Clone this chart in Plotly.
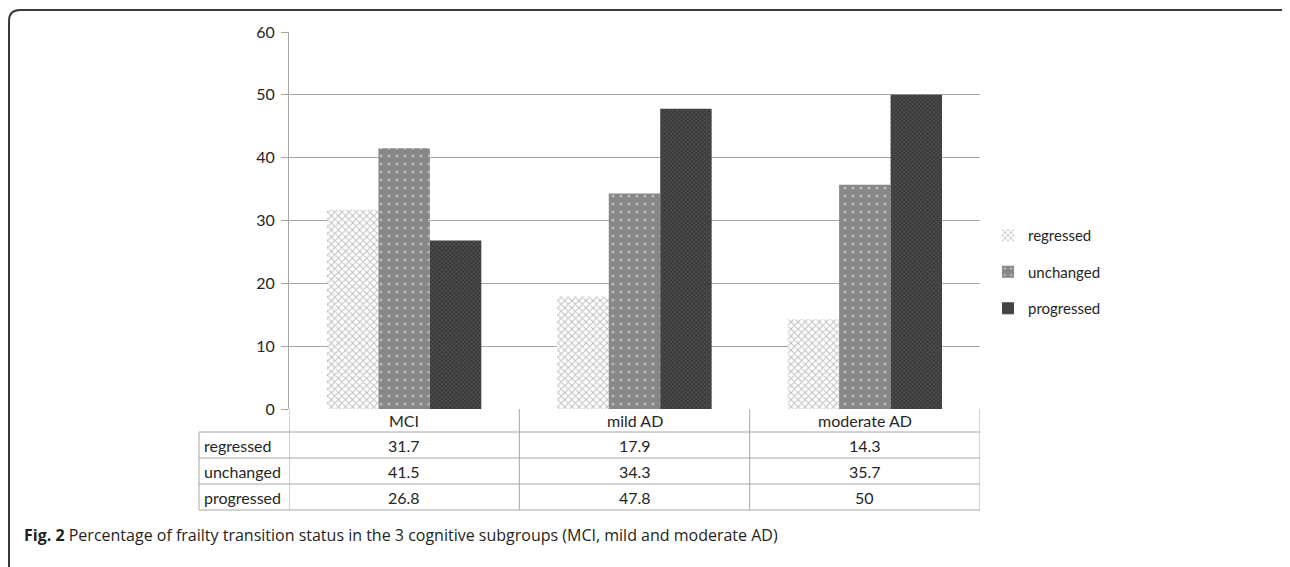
import plotly.graph_objects as go

# ---------------- data ----------------
categories = ["MCI", "mild AD", "moderate AD"]
series_names = ["regressed", "unchanged", "progressed"]
regressed = [31.7, 17.9, 14.3]
unchanged = [41.5, 34.3, 35.7]
progressed = [26.8, 47.8, 50]
table_values = ["31.7", "17.9", "14.3"], ["41.5", "34.3", "35.7"], ["26.8", "47.8", "50"]
y_ticks = [0, 10, 20, 30, 40, 50, 60]
caption_bold = "Fig. 2"
caption_text = " Percentage of frailty transition status in the 3 cognitive subgroups (MCI, mild and moderate AD)"

# ---------------- geometry ----------------
OFF = 8  # page body margin
W, H = 1290 - OFF, 567 - OFF
# target screen pixels of plot area
SL, SR, ST, SB = 289, 980, 32, 409
L, R, T, B = SL - OFF, SR - OFF, ST - OFF, SB - OFF
PW, PH = R - L, B - T


def px(xs):
    return (xs - OFF - L) / PW


def py(ys):
    return (B - (ys - OFF)) / PH


TXT = "#262626"
GRID = "#a6a6a6"
FONT = "Lato, Calibri, 'Open Sans', sans-serif"

patterns = [
    dict(shape="x", bgcolor="#ffffff", fgcolor="#7a7a7a", size=5, solidity=0.35),
    dict(shape=".", bgcolor="#878787", fgcolor="#e8e8e8", size=8, solidity=0.12),
    dict(shape="x", bgcolor="#3a3a3a", fgcolor="#8c8c8c", size=3, solidity=0.3),
]

fig = go.Figure()
for name, vals, pat in zip(series_names, [regressed, unchanged, progressed], patterns):
    fig.add_trace(go.Bar(
        x=categories, y=vals, name=name, legendgroup=name,
        marker=dict(color=pat["bgcolor"], line=dict(width=0), pattern=pat),
        hoverinfo="x+y+name",
    ))

fig.update_layout(
    width=W, height=H,
    margin=dict(l=L, r=W - R, t=T, b=H - B, autoexpand=False),
    paper_bgcolor="white", plot_bgcolor="white",
    barmode="group", bargap=0.33, bargroupgap=0,
    font=dict(family=FONT, size=16, color=TXT),
    showlegend=True,
    legend=dict(x=px(988), y=py(272), xanchor="left", yanchor="middle",
                font=dict(family=FONT, size=15, color=TXT),
                tracegroupgap=14, bgcolor="rgba(0,0,0,0)", itemclick=False),
    xaxis=dict(showticklabels=False, showgrid=False, zeroline=False, showline=False,
               ticks="", range=[-0.5, 2.5], fixedrange=True),
    yaxis=dict(range=[0, 60], tickvals=y_ticks, showgrid=True, gridcolor=GRID, gridwidth=1,
               zeroline=False, showline=True, linecolor=GRID, linewidth=1,
               ticks="outside", ticklen=7, tickcolor=GRID, tickwidth=1,
               ticklabelstandoff=3,
               tickfont=dict(family=FONT, size=16, color=TXT), fixedrange=True),
)

shapes = []
line_style = dict(color=GRID, width=1)
# table horizontal lines
row_lines = [432, 458, 484, 510]
for yy in row_lines:
    shapes.append(dict(type="line", xref="paper", yref="paper",
                       x0=px(199), x1=1, y0=py(yy), y1=py(yy), line=line_style))
# vertical lines at category boundaries
for xb in [-0.5, 0.5, 1.5, 2.5]:
    shapes.append(dict(type="line", xref="x", yref="paper",
                       x0=xb, x1=xb, y0=0, y1=py(510), line=line_style))
# left border of row-label column
shapes.append(dict(type="line", xref="paper", yref="paper",
                   x0=px(199), x1=px(199), y0=py(432), y1=py(510), line=line_style))
# outer frame with rounded corner
fy0 = py(10)
frame_path = (f"M {px(1288)},{py(14)} Q {px(1288)},{py(10)} {px(1282)},{py(10)} "
              f"L {px(20)},{fy0} Q {px(9)},{fy0} {px(9)},{py(21)} "
              f"L {px(9)},{py(580)}")
shapes.append(dict(type="path", xref="paper", yref="paper", path=frame_path,
                   line=dict(color="#3a3a3a", width=2)))
fig.update_layout(shapes=shapes)

annotations = []
row_centers = [445, 471, 497]
# category header row
for c in categories:
    annotations.append(dict(x=c, y=py(421), xref="x", yref="paper", text=c, showarrow=False,
                            xanchor="center", yanchor="middle",
                            font=dict(family=FONT, size=16, color=TXT)))
# row labels and values
for name, vals, yc in zip(series_names, table_values, row_centers):
    annotations.append(dict(x=px(202), y=py(yc), xref="paper", yref="paper", text=name,
                            showarrow=False, xanchor="left", yanchor="middle",
                            font=dict(family=FONT, size=16, color=TXT)))
    for c, v in zip(categories, vals):
        annotations.append(dict(x=c, y=py(yc), xref="x", yref="paper", text=v, showarrow=False,
                                xanchor="center", yanchor="middle",
                                font=dict(family=FONT, size=16, color=TXT)))
# caption
annotations.append(dict(x=px(22), y=py(535), xref="paper", yref="paper",
                        text=f"<b>{caption_bold}</b>{caption_text}", showarrow=False,
                        xanchor="left", yanchor="middle",
                        font=dict(family="'Open Sans', 'Noto Sans', sans-serif", size=16, color="#231f20")))
fig.update_layout(annotations=annotations)

fig.write_html("out.html", config={"displayModeBar": False})
